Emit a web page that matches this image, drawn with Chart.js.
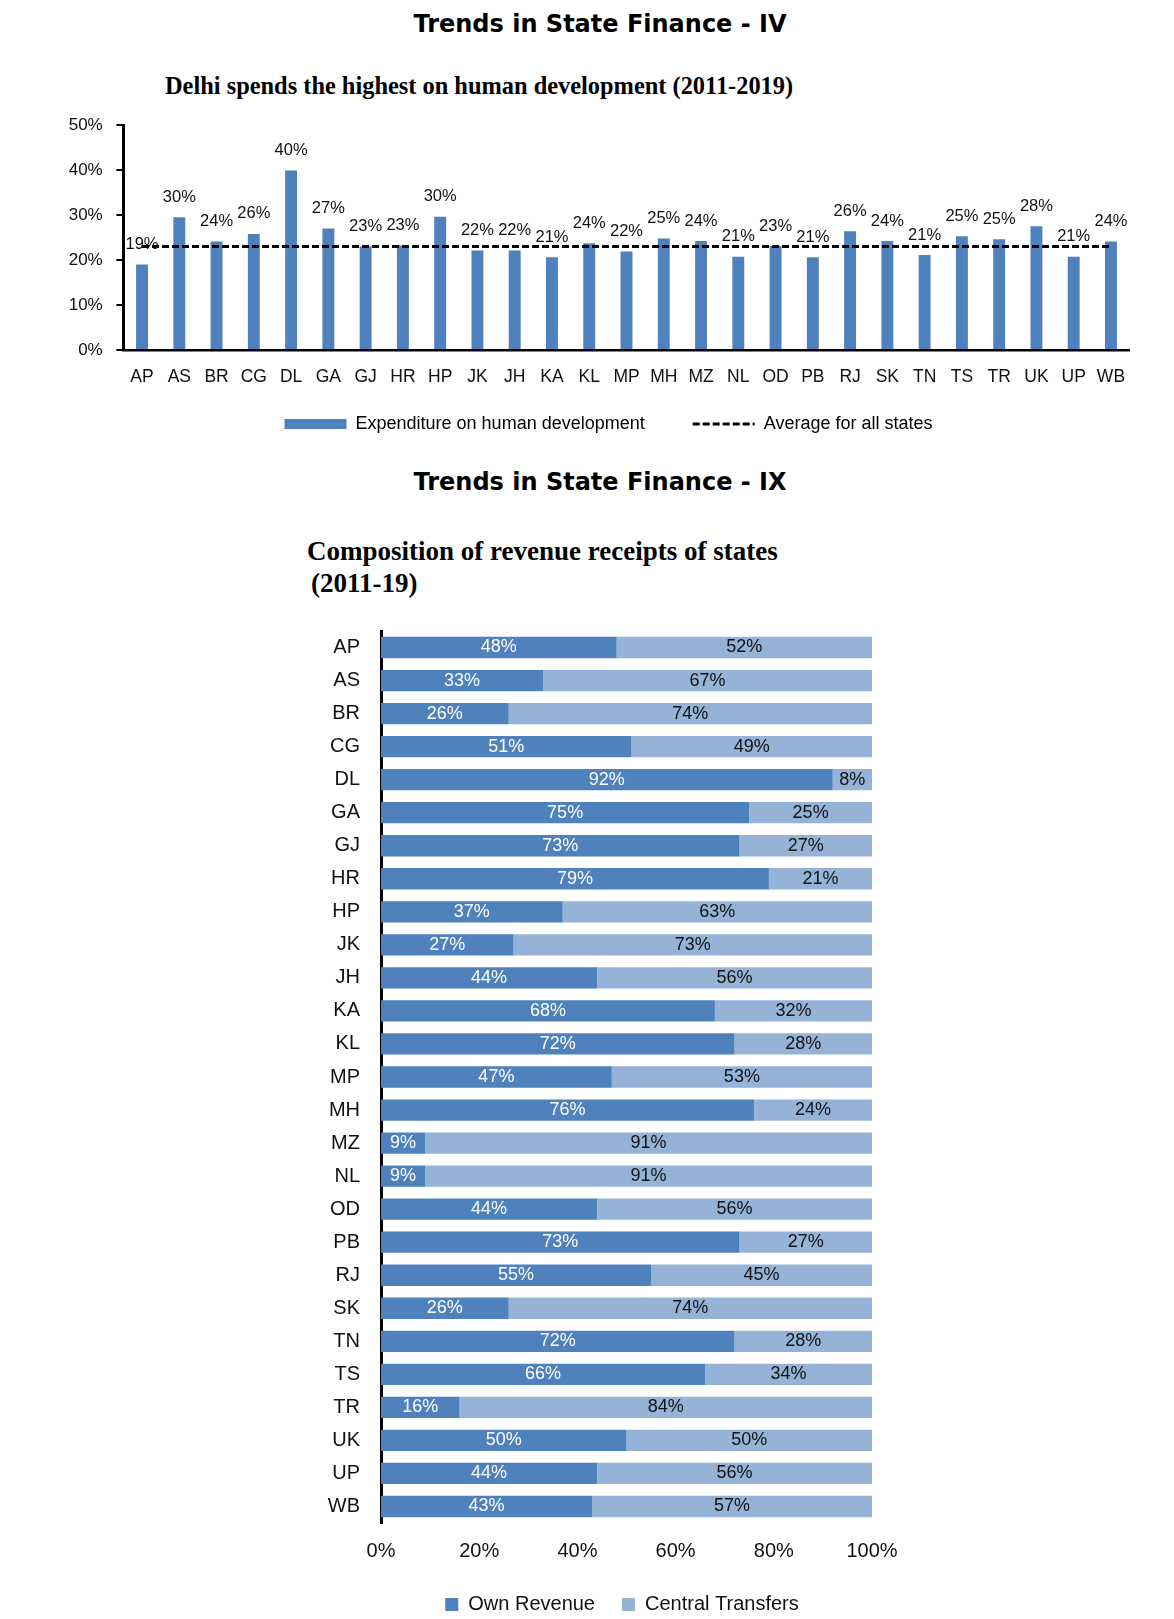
<!DOCTYPE html>
<html lang="en">
<head>
<meta charset="UTF-8">
<title>Trends in State Finance</title>
<script src="https://cdn.jsdelivr.net/npm/chart.js"></script>
<style>
  html, body { margin: 0; padding: 0; background: #fff; }
  body { width: 1174px; height: 1619px; position: relative; overflow: hidden; }
  .title { position: absolute; left: 0; width: 1200px; height: 30px; line-height: 30px; text-align: center;
           font-family: 'DejaVu Sans', sans-serif; font-weight: bold; font-size: 24px; color: #000; }
  .sub { position: absolute; white-space: nowrap; font-family: 'Liberation Serif', serif; font-weight: bold; color: #000; }
  canvas { position: absolute; left: 0; }
</style>
</head>
<body>
<div class="title" style="top:9px">Trends in State Finance - IV</div>
<div class="sub" style="left:165px; top:72px; font-size:24.4px; line-height:28px">Delhi spends the highest on human development (2011-2019)</div>
<canvas id="hdChart" width="1174" height="366" style="top:100px"></canvas>

<div class="title" style="top:467px">Trends in State Finance - IX</div>
<div class="sub" style="left:307px; top:535px; font-size:27px; line-height:32px">Composition of revenue receipts of states</div>
<div class="sub" style="left:311px; top:567px; font-size:27px; line-height:32px">(2011-19)</div>
<canvas id="revChart" width="1174" height="1024" style="top:598px"></canvas>

<script>
const states = ['AP', 'AS', 'BR', 'CG', 'DL', 'GA', 'GJ', 'HR', 'HP', 'JK', 'JH', 'KA', 'KL', 'MP',
                'MH', 'MZ', 'NL', 'OD', 'PB', 'RJ', 'SK', 'TN', 'TS', 'TR', 'UK', 'UP', 'WB'];

// share of expenditure on human development, %
const hdSpend = [19.0, 29.5, 24.1, 25.8, 39.9, 27.0, 23.0, 23.2, 29.6, 22.1, 22.1, 20.6, 23.7, 21.9,
                 24.8, 24.2, 20.7, 23.1, 20.6, 26.4, 24.2, 21.1, 25.3, 24.6, 27.5, 20.7, 24.1];
const hdAverage = 23;

// composition of revenue receipts, %
const ownRevenue = [48, 33, 26, 51, 92, 75, 73, 79, 37, 27, 44, 68, 72, 47,
                    76, 9, 9, 44, 73, 55, 26, 72, 66, 16, 50, 44, 43];
const centralTransfers = [52, 67, 74, 49, 8, 25, 27, 21, 63, 73, 56, 32, 28, 53,
                          24, 91, 91, 56, 27, 45, 74, 28, 34, 84, 50, 56, 57];

const hdTicks = { min: 0, max: 50, step: 10 };
const shareTicks = { min: 0, max: 100, step: 20 };

const DARK = '#4F81BD';
const LIGHT = '#95B3D7';
const TEXT = '#111';
const SANS = "'Liberation Sans', Arial, sans-serif";

// value labels on bars
const barLabels = {
    id: 'barLabels',
    afterDatasetsDraw(chart, args, opts) {
        const ctx = chart.ctx;
        ctx.save();
        ctx.font = opts.font;
        ctx.textAlign = 'center';
        ctx.textBaseline = 'middle';
        opts.sets.forEach(s => {
            const meta = chart.getDatasetMeta(s.index);
            const values = chart.data.datasets[s.index].data;
            meta.data.forEach((bar, i) => {
                const p = s.inside ? bar.getCenterPoint() : { x: bar.x, y: bar.y - s.offset };
                ctx.fillStyle = s.color;
                ctx.fillText(Math.round(values[i]) + '%', p.x, p.y);
            });
        });
        ctx.restore();
    }
};

// move the legend row so it sits where the original has it
const legendPlace = {
    id: 'legendPlace',
    afterLayout(chart, args, opts) {
        const lg = chart.legend;
        if (!lg) return;
        const half = (lg.right - lg.left) / 2;
        lg.left = opts.centerX - half;
        lg.right = opts.centerX + half;
        if (opts.textY !== undefined) {
            const dy = opts.textY - (lg.top + lg.options.labels.padding + opts.fontSize / 2);
            lg.top += dy;
            lg.bottom += dy;
        }
    }
};

new Chart(document.getElementById('hdChart'), {
    data: {
        labels: states,
        datasets: [
            {
                type: 'line',
                label: 'Average for all states',
                data: states.map(() => hdAverage),
                borderColor: '#000',
                borderWidth: 3,
                borderDash: [7, 3],
                pointRadius: 0,
                fill: false,
                order: 0
            },
            {
                type: 'bar',
                label: 'Expenditure on human development',
                data: hdSpend,
                backgroundColor: DARK,
                barPercentage: 0.32,
                categoryPercentage: 1,
                order: 1
            }
        ]
    },
    options: {
        responsive: false,
        animation: false,
        layout: { padding: { top: 25, left: 63, right: 44.4, bottom: 0 } },
        scales: {
            x: {
                offset: true,
                grid: { display: false, drawTicks: false },
                border: { color: '#000', width: 2.5 },
                ticks: { font: { family: SANS, size: 17.5 }, color: TEXT, padding: 17, autoSkip: false, maxRotation: 0 },
                afterFit: s => { s.height = 40; }
            },
            y: {
                min: hdTicks.min,
                max: hdTicks.max,
                ticks: { stepSize: hdTicks.step, callback: v => v + '%', font: { family: SANS, size: 17 }, color: TEXT, padding: 13.7 },
                grid: { drawOnChartArea: false, drawTicks: true, tickLength: 7, color: '#000', lineWidth: 2 },
                border: { color: '#000', width: 3 },
                afterFit: s => { s.width = 60.4; }
            }
        },
        plugins: {
            tooltip: { enabled: false },
            legend: {
                position: 'bottom',
                labels: {
                    usePointStyle: true,
                    pointStyleWidth: 62,
                    boxHeight: 10,
                    padding: 48,
                    color: TEXT,
                    font: { family: SANS, size: 18 },
                    generateLabels: () => [
                        { text: 'Expenditure on human development', fillStyle: DARK, strokeStyle: DARK, lineWidth: 0,
                          pointStyle: 'rect', datasetIndex: 1, hidden: false },
                        { text: 'Average for all states', fillStyle: 'rgba(0,0,0,0)', strokeStyle: '#000', lineWidth: 3,
                          lineDash: [7, 3], pointStyle: 'line', datasetIndex: 0, hidden: false }
                    ]
                }
            },
            legendPlace: { centerX: 608.5, textY: 324, fontSize: 18 },
            barLabels: {
                font: "16.5px " + SANS,
                sets: [{ index: 1, inside: false, offset: 20, color: TEXT }]
            }
        }
    },
    plugins: [barLabels, legendPlace]
});

new Chart(document.getElementById('revChart'), {
    type: 'bar',
    data: {
        labels: states,
        datasets: [
            { label: 'Own Revenue', data: ownRevenue, backgroundColor: DARK, barPercentage: 0.645, categoryPercentage: 1 },
            { label: 'Central Transfers', data: centralTransfers, backgroundColor: LIGHT, barPercentage: 0.645, categoryPercentage: 1 }
        ]
    },
    options: {
        indexAxis: 'y',
        responsive: false,
        animation: false,
        layout: { padding: { top: 30.5, left: 315, right: 302, bottom: 0 } },
        scales: {
            x: {
                stacked: true,
                min: shareTicks.min,
                max: shareTicks.max,
                ticks: { stepSize: shareTicks.step, callback: v => v + '%', font: { family: SANS, size: 20 }, color: TEXT, padding: 16 },
                grid: { display: false, drawTicks: false },
                border: { display: false },
                afterFit: s => { s.height = 42; }
            },
            y: {
                stacked: true,
                z: 1,
                ticks: { font: { family: SANS, size: 20 }, color: TEXT, padding: 21, autoSkip: false },
                grid: { display: false, drawTicks: false },
                border: { color: '#000', width: 3 },
                afterFit: s => { s.width = 66; }
            }
        },
        plugins: {
            tooltip: { enabled: false },
            legend: {
                position: 'bottom',
                labels: { boxWidth: 13, boxHeight: 13, padding: 27, color: TEXT, font: { family: SANS, size: 20 } }
            },
            legendPlace: { centerX: 622, textY: 1006.5, fontSize: 20 },
            barLabels: {
                font: "18px " + SANS,
                sets: [
                    { index: 0, inside: true, color: '#fff' },
                    { index: 1, inside: true, color: TEXT }
                ]
            }
        }
    },
    plugins: [barLabels, legendPlace]
});
</script>
</body>
</html>
